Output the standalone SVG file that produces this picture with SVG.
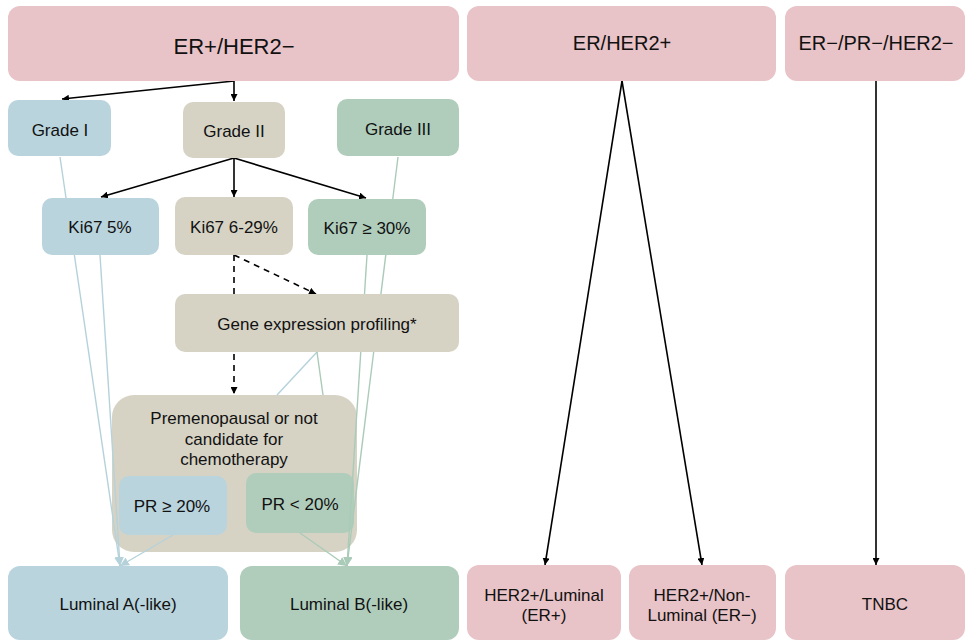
<svg xmlns="http://www.w3.org/2000/svg" width="966" height="641" viewBox="0 0 966 641">
<style>
text{font-family:"Liberation Sans",Arial,sans-serif;fill:#111;text-anchor:middle}
.pink{fill:#E8C3C7}.blue{fill:#B9D4DD}.beige{fill:#D6D3C5}.green{fill:#B0CDBC}
.t17{font-size:17px}.t20{font-size:20px}.t22{font-size:22px}
.blk{stroke:#000;stroke-width:1.6;fill:none}
.dash{stroke:#000;stroke-width:1.6;fill:none;stroke-dasharray:6 5}
.lb{stroke:#B5D2DB;stroke-width:1.4;fill:none}
.lg{stroke:#AACBB8;stroke-width:1.4;fill:none}
</style>
<defs>
<marker id="ab" viewBox="0 0 10 10" refX="10" refY="5" markerWidth="7" markerHeight="7" markerUnits="userSpaceOnUse" orient="auto"><path d="M0,0L10,5L0,10z" fill="#000"/></marker>
<marker id="alb" viewBox="0 0 10 10" refX="10" refY="5" markerWidth="9" markerHeight="9" markerUnits="userSpaceOnUse" orient="auto"><path d="M0,0L10,5L0,10z" fill="#B5D2DB"/></marker>
<marker id="alg" viewBox="0 0 10 10" refX="10" refY="5" markerWidth="9" markerHeight="9" markerUnits="userSpaceOnUse" orient="auto"><path d="M0,0L10,5L0,10z" fill="#AACBB8"/></marker>
</defs>

<g id="premenopausal">
<rect class="beige" x="112" y="395" width="245" height="157" rx="22"/>
<text class="t17" x="234" y="424">Premenopausal or not</text>
<text class="t17" x="234" y="445">candidate for</text>
<text class="t17" x="234" y="465">chemotherapy</text>
</g>
<g id="pr-high">
<rect class="blue" x="119" y="476" width="108" height="59" rx="10"/>
<text class="t17" x="172" y="512">PR ≥ 20%</text>
</g>
<g id="pr-low">
<rect class="green" x="246" y="473" width="108" height="60" rx="10"/>
<text class="t17" x="300" y="510">PR &lt; 20%</text>
</g>

<g id="connectors">
<path class="blk" d="M234,81 L62,99" marker-end="url(#ab)"/>
<path class="blk" d="M234,81 L234,101" marker-end="url(#ab)"/>
<path class="blk" d="M234,158 L101,197" marker-end="url(#ab)"/>
<path class="blk" d="M234,158 L234,197" marker-end="url(#ab)"/>
<path class="blk" d="M234,158 L366,198" marker-end="url(#ab)"/>
<path class="dash" d="M234,255 L234,394" marker-end="url(#ab)"/>
<path class="dash" d="M234,255 L316,294" marker-end="url(#ab)"/>
<path class="blk" d="M622,81 L545,565" marker-end="url(#ab)"/>
<path class="blk" d="M622,81 L702,565" marker-end="url(#ab)"/>
<path class="blk" d="M876,81 L876,565" marker-end="url(#ab)"/>
<path class="lb" d="M60,157 L120,566" marker-end="url(#alb)"/>
<path class="lb" d="M100,255 L120,566" marker-end="url(#alb)"/>
<path class="lb" d="M173,535 L120,566" marker-end="url(#alb)"/>
<path class="lb" d="M317,352 L277,395"/>
<path class="lg" d="M398,157 L347,566" marker-end="url(#alg)"/>
<path class="lg" d="M367,255 L347,566" marker-end="url(#alg)"/>
<path class="lg" d="M300,533 L347,566" marker-end="url(#alg)"/>
<path class="lg" d="M317,352 L323,395"/>
</g>

<g id="er-her2neg">
<rect class="pink" x="8" y="6" width="451" height="75" rx="12"/>
<text class="t22" x="234" y="54">ER+/HER2−</text>
</g>
<g id="er-her2pos">
<rect class="pink" x="467" y="6" width="309" height="75" rx="12"/>
<text class="t20" x="622" y="50">ER/HER2+</text>
</g>
<g id="tn">
<rect class="pink" x="785" y="6" width="180" height="75" rx="12"/>
<text class="t20" x="876" y="50">ER−/PR−/HER2−</text>
</g>
<g id="grade1">
<rect class="blue" x="8" y="100" width="103" height="56" rx="10"/>
<text class="t17" x="60" y="136">Grade I</text>
</g>
<g id="grade2">
<rect class="beige" x="183" y="102" width="102" height="56" rx="10"/>
<text class="t17" x="234" y="137">Grade II</text>
</g>
<g id="grade3">
<rect class="green" x="337" y="99" width="122" height="57" rx="10"/>
<text class="t17" x="398" y="135">Grade III</text>
</g>
<g id="ki67-low">
<rect class="blue" x="42" y="198" width="117" height="57" rx="10"/>
<text class="t17" x="100" y="233">Ki67 5%</text>
</g>
<g id="ki67-mid">
<rect class="beige" x="175" y="197" width="118" height="58" rx="10"/>
<text class="t17" x="234" y="233">Ki67 6-29%</text>
</g>
<g id="ki67-high">
<rect class="green" x="308" y="199" width="118" height="56" rx="10"/>
<text class="t17" x="367" y="234">Ki67 ≥ 30%</text>
</g>
<g id="gep">
<rect class="beige" x="175" y="294" width="284" height="58" rx="10"/>
<text class="t17" x="317" y="330">Gene expression profiling*</text>
</g>
<g id="luminal-a">
<rect class="blue" x="8" y="566" width="220" height="74" rx="12"/>
<text class="t17" x="118" y="610">Luminal A(-like)</text>
</g>
<g id="luminal-b">
<rect class="green" x="240" y="566" width="219" height="74" rx="12"/>
<text class="t17" x="349" y="610">Luminal B(-like)</text>
</g>
<g id="her2-luminal">
<rect class="pink" x="467" y="565" width="154" height="75" rx="12"/>
<text class="t17" x="544" y="601">HER2+/Luminal</text>
<text class="t17" x="544" y="621">(ER+)</text>
</g>
<g id="her2-nonluminal">
<rect class="pink" x="629" y="565" width="147" height="75" rx="12"/>
<text class="t17" x="702" y="601">HER2+/Non-</text>
<text class="t17" x="702" y="621">Luminal (ER−)</text>
</g>
<g id="tnbc">
<rect class="pink" x="785" y="565" width="180" height="75" rx="12"/>
<text class="t17" x="885" y="610">TNBC</text>
</g>
</svg>
